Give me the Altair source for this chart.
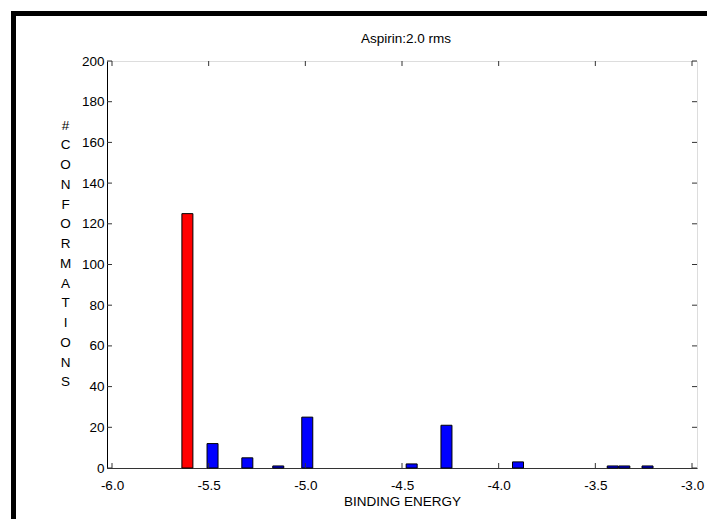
import altair as alt
import pandas as pd

# data
energy = [-5.61, -5.48, -5.30, -5.14, -4.99, -4.45, -4.27, -3.90, -3.41, -3.35, -3.23]
counts = [125, 12, 5, 1, 25, 2, 21, 3, 1, 1, 1]
group = ["best"] + ["other"] * 10
xticks = [-6.0, -5.5, -5.0, -4.5, -4.0, -3.5, -3.0]
yticks = [0, 20, 40, 60, 80, 100, 120, 140, 160, 180, 200]
ytitle = list("#CONFORMATIONS")
chart_title = "Aspirin:2.0 rms"

W, H = 590, 407
FONT = "Liberation Sans"
FS = 13.5

df = pd.DataFrame({"energy": energy, "count": counts, "group": group})
xs = alt.Scale(domain=[-6, -3], nice=False, zero=False)
ys = alt.Scale(domain=[0, 200], nice=False)

bars = alt.Chart(df).mark_bar(orient="vertical", size=11, stroke="black", strokeWidth=1).encode(
    x=alt.X("energy:Q", scale=xs,
            axis=alt.Axis(values=xticks, format=".1f", ticks=False, labelPadding=10,
                          labelExpr="replace(datum.label, '\u2212', '-')",
                          title="BINDING ENERGY", titlePadding=3, grid=False,
                          domainColor="#333", labelFont=FONT, labelFontSize=FS,
                          labelColor="black", titleFont=FONT, titleFontSize=FS,
                          titleFontWeight="normal", titleColor="black")),
    y=alt.Y("count:Q", scale=ys,
            axis=alt.Axis(values=yticks, ticks=False, labelPadding=3, grid=False,
                          domainColor="black", labelFont=FONT, labelFontSize=FS,
                          labelColor="black", title=ytitle, titleAngle=0,
                          titleX=-42, titleY=57, titleAlign="center",
                          titleBaseline="top", titleLineHeight=19.75,
                          titleFont=FONT, titleFontSize=FS, titleFontWeight="normal",
                          titleColor="black")),
    color=alt.Color("group:N", scale=alt.Scale(domain=["best", "other"],
                                               range=["#ff0000", "#0000ff"]), legend=None),
)

xt = pd.DataFrame({"energy": xticks})
yt = pd.DataFrame({"count": yticks})
tick_style = dict(color="#333", strokeWidth=1)
bt = alt.Chart(xt).mark_rule(**tick_style).encode(
    x=alt.X("energy:Q", scale=xs), y=alt.value(H), y2=alt.value(H - 5))
tt = alt.Chart(xt).mark_rule(**tick_style).encode(
    x=alt.X("energy:Q", scale=xs), y=alt.value(0), y2=alt.value(5))
lt = alt.Chart(yt).mark_rule(**tick_style).encode(
    y=alt.Y("count:Q", scale=ys), x=alt.value(0), x2=alt.value(5))
rt = alt.Chart(yt).mark_rule(**tick_style).encode(
    y=alt.Y("count:Q", scale=ys), x=alt.value(W), x2=alt.value(W - 5))

one = pd.DataFrame({"a": [0]})
title_text = alt.Chart(one).mark_text(font=FONT, fontSize=FS, color="black",
                                      align="center", baseline="middle").encode(
    x=alt.value(W / 2 + 4), y=alt.value(-22), text=alt.value(chart_title))
border_top = alt.Chart(one).mark_rule(color="black", strokeWidth=5, strokeCap="square").encode(
    x=alt.value(-93.5), x2=alt.value(620), y=alt.value(-47.5))
border_left = alt.Chart(one).mark_rule(color="black", strokeWidth=5, strokeCap="square").encode(
    x=alt.value(-93.5), y=alt.value(-47.5), y2=alt.value(470))

chart = alt.layer(bars, bt, tt, lt, rt, title_text, border_top, border_left).properties(
    width=W, height=H,
    autosize=alt.AutoSizeParams(type="none"),
    padding={"left": 99, "top": 53, "right": 10, "bottom": 51},
).configure_view(stroke="#333", strokeWidth=1).configure(background="white")

chart.save("out.html", embed_options={"renderer": "svg", "actions": False})
